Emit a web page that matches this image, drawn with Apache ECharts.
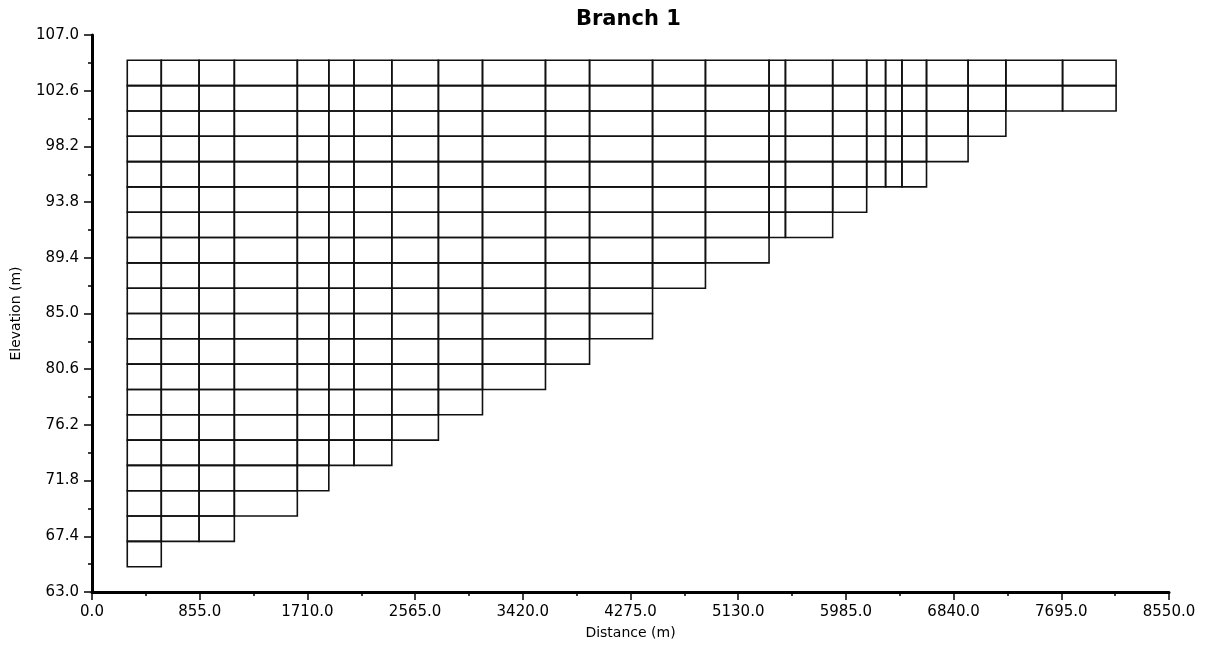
<!DOCTYPE html>
<html>
<head>
<meta charset="utf-8">
<script src="https://cdn.jsdelivr.net/npm/echarts@6/dist/echarts.min.js"></script>
<style>
  html, body { margin: 0; padding: 0; background: #ffffff; }
  #chart { width: 1207px; height: 649px; }
</style>
</head>
<body>
<div id="chart"></div>
<script>
// Segment boundaries along the branch (m)
const columnEdges = [280, 550, 850, 1130, 1630, 1880, 2080, 2380, 2750, 3100, 3600, 3950,
                     4450, 4870, 5375, 5505, 5880, 6150, 6300, 6430, 6625, 6955, 7255, 7705, 8130];
// Bed elevation of each segment (m)
const columnBottoms = [65, 67, 67, 69, 71, 73, 73, 75, 77, 79, 81, 83,
                       87, 89, 91, 91, 93, 95, 95, 95, 97, 99, 101, 101];
// Top of the grid and vertical layer thickness (m)
const topElevation = 105;
const layerThickness = 2;
// Elevation axis ticks
const yTickValues = [63.0, 67.4, 71.8, 76.2, 80.6, 85.0, 89.4, 93.8, 98.2, 102.6, 107.0];
const yMinorTickValues = [65.2, 69.6, 74.0, 78.4, 82.8, 87.2, 91.6, 96.0, 100.4, 104.8];

// One cell per segment and layer: [xLeft, xRight, zTop, zBottom]
const cells = [];
for (let i = 0; i < columnBottoms.length; i++) {
  for (let z = topElevation; z > columnBottoms[i] + 1e-9; z -= layerThickness) {
    cells.push([columnEdges[i], columnEdges[i + 1], z, z - layerThickness]);
  }
}

const FONT = 'DejaVu Sans';
const chart = echarts.init(document.getElementById('chart'), null, { renderer: 'canvas' });

chart.setOption({
  animation: false,
  backgroundColor: '#ffffff',
  title: {
    text: 'Branch 1',
    left: 571,
    top: 4,
    textStyle: { fontFamily: FONT, fontWeight: 'bold', fontSize: 21, color: '#000' }
  },
  grid: { left: 92, right: 38, top: 35, bottom: 57, containLabel: false },
  xAxis: {
    type: 'value',
    min: 0,
    max: 8550,
    interval: 855,
    name: 'Distance (m)',
    nameLocation: 'middle',
    nameGap: 34,
    nameTextStyle: { fontFamily: FONT, fontSize: 14, color: '#000' },
    axisLine: { show: true, onZero: false, lineStyle: { color: '#000', width: 3 } },
    axisTick: { show: true, length: 8, lineStyle: { color: '#000', width: 1.5 } },
    minorTick: { show: true, splitNumber: 2, length: 4, lineStyle: { color: '#000', width: 1.5 } },
    axisLabel: {
      margin: 13,
      fontFamily: FONT, fontSize: 15, color: '#000',
      formatter: v => v.toFixed(1)
    },
    splitLine: { show: false }
  },
  yAxis: [
    {
      type: 'value',
      min: 63,
      max: 107,
      position: 'left',
      name: 'Elevation (m)',
      nameLocation: 'middle',
      nameGap: 69,
      nameRotate: 90,
      nameTextStyle: { fontFamily: FONT, fontSize: 14, color: '#000' },
      axisLine: { show: true, onZero: false, lineStyle: { color: '#000', width: 3 } },
      axisTick: { show: true, length: 8, customValues: yTickValues, lineStyle: { color: '#000', width: 1.5 } },
      axisLabel: {
        customValues: yTickValues,
        margin: 13,
        fontFamily: FONT, fontSize: 15, color: '#000',
        formatter: v => v.toFixed(1)
      },
      splitLine: { show: false }
    },
    {
      type: 'value',
      min: 63,
      max: 107,
      position: 'left',
      axisLine: { show: false, onZero: false },
      axisTick: { show: true, length: 4, customValues: yMinorTickValues, lineStyle: { color: '#000', width: 1.5 } },
      axisLabel: { show: false },
      splitLine: { show: false }
    }
  ],
  series: [{
    type: 'custom',
    coordinateSystem: 'cartesian2d',
    xAxisIndex: 0,
    yAxisIndex: 0,
    encode: { x: [0, 1], y: [2, 3] },
    data: cells,
    renderItem: function (params, api) {
      const p0 = api.coord([api.value(0), api.value(2)]);
      const p1 = api.coord([api.value(1), api.value(3)]);
      return {
        type: 'rect',
        shape: { x: p0[0], y: p0[1], width: p1[0] - p0[0], height: p1[1] - p0[1] },
        style: { fill: 'none', stroke: '#111111', lineWidth: 1.6 }
      };
    }
  }]
});
</script>
</body>
</html>
